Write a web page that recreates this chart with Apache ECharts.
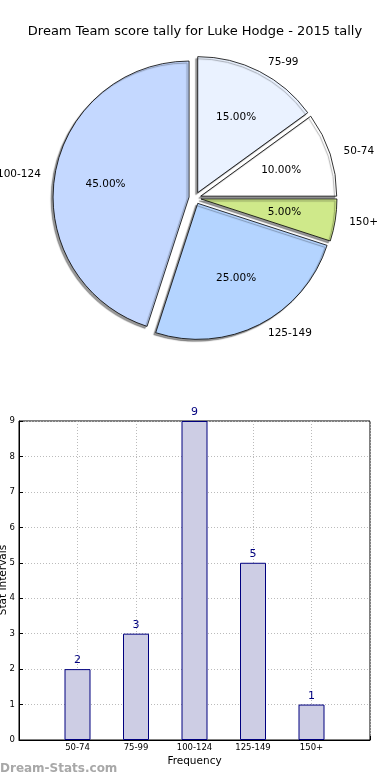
<!DOCTYPE html>
<html>
<head>
<meta charset="utf-8">
<script src="https://cdn.jsdelivr.net/npm/echarts@6/dist/echarts.min.js"></script>
<style>
html,body{margin:0;padding:0;background:#fff;}
#chart{width:390px;height:780px;}
</style>
</head>
<body>
<div id="chart"></div>
<script>
var titleText = 'Dream Team score tally for Luke Hodge - 2015 tally';
var categories = ['50-74', '75-99', '100-124', '125-149', '150+'];
var counts = [2, 3, 9, 5, 1];
var pieColors = ['#ffffff', '#eaf2ff', '#c4d8ff', '#b4d4ff', '#cfe98a'];
var xAxisName = 'Frequency';
var yAxisName = 'Stat Intervals';
var watermark = 'Dream-Stats.com';

var total = counts.reduce(function (a, b) { return a + b; }, 0);
var FONT = 'DejaVu Sans';
var R = 136;
var center = [195, 198];

var pieData = categories.map(function (c, i) {
  return {
    name: c, value: counts[i], selected: true,
    itemStyle: { color: pieColors[i] },
    select: { itemStyle: { color: pieColors[i] } }
  };
});
var pieLabelData = categories.map(function (c, i) {
  return { name: c, value: counts[i], selected: true };
});

var xCats = [''].concat(categories).concat(['']);
var barVals = [null].concat(counts).concat([null]);

var chart = echarts.init(document.getElementById('chart'), null, { renderer: 'canvas' });
chart.setOption({
  animation: false,
  backgroundColor: '#ffffff',
  title: {
    text: titleText, left: 'center', top: 20,
    textStyle: { fontFamily: FONT, fontSize: 13, fontWeight: 'normal', color: '#000' }
  },
  graphic: [{
    type: 'text', left: 0, top: 763,
    style: { text: watermark, fontFamily: FONT, fontSize: 12, fontWeight: 'bold', fill: '#a8a8a8' }
  }, {
    type: 'text', x: 3, y: 580, rotation: Math.PI / 2,
    style: { text: yAxisName, fontFamily: FONT, fontSize: 10.5, fill: '#000', align: 'center', verticalAlign: 'middle' }
  }],
  grid: {
    left: 19, right: 20, top: 421, bottom: 40,
    containLabel: false, outerBoundsMode: 'none',
    show: true, borderColor: '#000', borderWidth: 1, backgroundColor: 'transparent'
  },
  xAxis: {
    type: 'category', data: xCats, boundaryGap: false,
    name: xAxisName, nameLocation: 'middle', nameGap: 16,
    nameTextStyle: { fontFamily: FONT, fontSize: 10.5, color: '#000' },
    axisLine: { lineStyle: { color: '#000', width: 1 } },
    axisTick: { inside: true, length: 4, lineStyle: { color: '#000' } },
    axisLabel: { fontFamily: FONT, fontSize: 8.5, color: '#000', margin: 3, interval: 0 },
    splitLine: { show: true, lineStyle: { color: '#bbbbbb', type: [1, 2], width: 1 } }
  },
  yAxis: {
    type: 'value', min: 0, max: 9, interval: 1,
    axisLine: { show: true, lineStyle: { color: '#000', width: 1 } },
    axisTick: { show: true, inside: true, length: 4, lineStyle: { color: '#000' } },
    axisLabel: { fontFamily: FONT, fontSize: 8.5, color: '#000', margin: 4 },
    splitLine: { show: true, lineStyle: { color: '#bbbbbb', type: [1, 2], width: 1 } }
  },
  series: [
    {
      type: 'bar', data: barVals, barWidth: 26, z: 1,
      itemStyle: { color: '#cdcde4', borderColor: '#00007f', borderWidth: 1 },
      label: {
        show: true, position: 'top', distance: 3,
        fontFamily: FONT, fontSize: 11, color: '#00007f'
      }
    },
    {
      type: 'pie', center: center, radius: [0, R],
      clockwise: false, startAngle: 0,
      selectedMode: 'multiple', selectedOffset: 6,
      avoidLabelOverlap: false, silent: true,
      data: pieData,
      itemStyle: {
        borderColor: '#000', borderWidth: 0.8,
        shadowColor: 'rgba(0,0,0,0.4)', shadowBlur: 1, shadowOffsetX: -2, shadowOffsetY: 2
      },
      label: {
        show: true, position: 'outside', distanceToLabelLine: 4, overflow: 'none',
        fontFamily: FONT, fontSize: 10.5, color: '#000',
        formatter: '{b}'
      },
      labelLine: { show: false, length: 10, length2: 0 }
    },
    {
      type: 'pie', center: center, radius: [0, R * 1.2],
      clockwise: false, startAngle: 0,
      selectedMode: 'multiple', selectedOffset: 6,
      avoidLabelOverlap: false, silent: true,
      data: pieLabelData,
      itemStyle: { color: 'rgba(0,0,0,0)', borderWidth: 0 },
      select: { itemStyle: { color: 'rgba(0,0,0,0)', borderWidth: 0 } },
      label: {
        show: true, position: 'inside',
        fontFamily: FONT, fontSize: 10.5, color: '#000',
        formatter: function (p) { return (p.value / total * 100).toFixed(2) + '%'; }
      },
      labelLine: { show: false }
    }
  ]
});
</script>
</body>
</html>
